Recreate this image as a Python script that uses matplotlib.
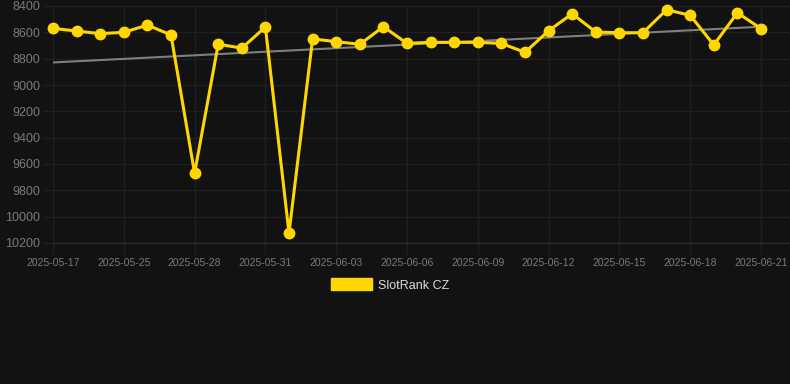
import matplotlib
matplotlib.use("Agg")
import matplotlib.pyplot as plt
import matplotlib.patches as mpatches
import numpy as np

dates = ["2025-05-17", "2025-05-23", "2025-05-24", "2025-05-25", "2025-05-26", "2025-05-27",
         "2025-05-28", "2025-05-29", "2025-05-30", "2025-05-31", "2025-06-01", "2025-06-02",
         "2025-06-03", "2025-06-04", "2025-06-05", "2025-06-06", "2025-06-07", "2025-06-08",
         "2025-06-09", "2025-06-10", "2025-06-11", "2025-06-12", "2025-06-13", "2025-06-14",
         "2025-06-15", "2025-06-16", "2025-06-17", "2025-06-18", "2025-06-19", "2025-06-20",
         "2025-06-21"]
rank = [8570, 8590, 8610, 8600, 8545, 8620, 9670, 8690, 8720, 8560, 10125, 8650,
        8671, 8691, 8557, 8684, 8676, 8676, 8676, 8684, 8752, 8588, 8459, 8598,
        8603, 8603, 8428, 8471, 8696, 8451, 8572]
y_ticks = [8400, 8600, 8800, 9000, 9200, 9400, 9600, 9800, 10000, 10200]
series_name = "SlotRank CZ"

BG = "#121212"
GOLD = "#FFD700"
GRID = "#1f1f1f"
TXT = "#7a7a7a"
plt.rcParams['font.family'] = ['Liberation Sans', 'DejaVu Sans']

fig = plt.figure(figsize=(7.9, 3.84), dpi=100, facecolor=BG)
ax = fig.add_axes([53/790, 1-243/384, 1-53/790, (243-6)/384], facecolor=BG)

x = np.arange(len(rank))
coef = np.polyfit(x, rank, 1)
ax.plot(x, np.polyval(coef, x), color="#7f7f7f", lw=1.5, zorder=2)
ax.plot(x, rank, color=GOLD, lw=2.2, marker='o', markersize=7.5,
        solid_joinstyle='miter', zorder=3, clip_on=False)

ax.set_ylim(10200, 8400)
ax.set_xlim(0, (790-53)/23.6)
ax.set_yticks(y_ticks)
ax.set_yticklabels([str(v) for v in y_ticks])
ax.set_xticks(x[::3])
ax.set_xticklabels(dates[::3])

ax.grid(True, color=GRID, lw=1)
ax.tick_params(axis='y', colors=GRID, labelcolor=TXT, labelsize=9, length=8, width=1, pad=1)
ax.tick_params(axis='x', colors=GRID, labelcolor=TXT, labelsize=7.5, length=8, width=1, pad=3)
for s in ['top', 'right', 'left']:
    ax.spines[s].set_visible(False)
ax.spines['bottom'].set_color("#2e2e2e")

handle = mpatches.Patch(color=GOLD, label=series_name)
leg = fig.legend(handles=[handle], loc='center', bbox_to_anchor=(390/790, 1-285/384),
                 frameon=False, fontsize=9, labelcolor="#dddddd",
                 handlelength=3.3, handleheight=1.1, handletextpad=0.5)

fig.savefig("out.png", dpi=100, facecolor=BG)
